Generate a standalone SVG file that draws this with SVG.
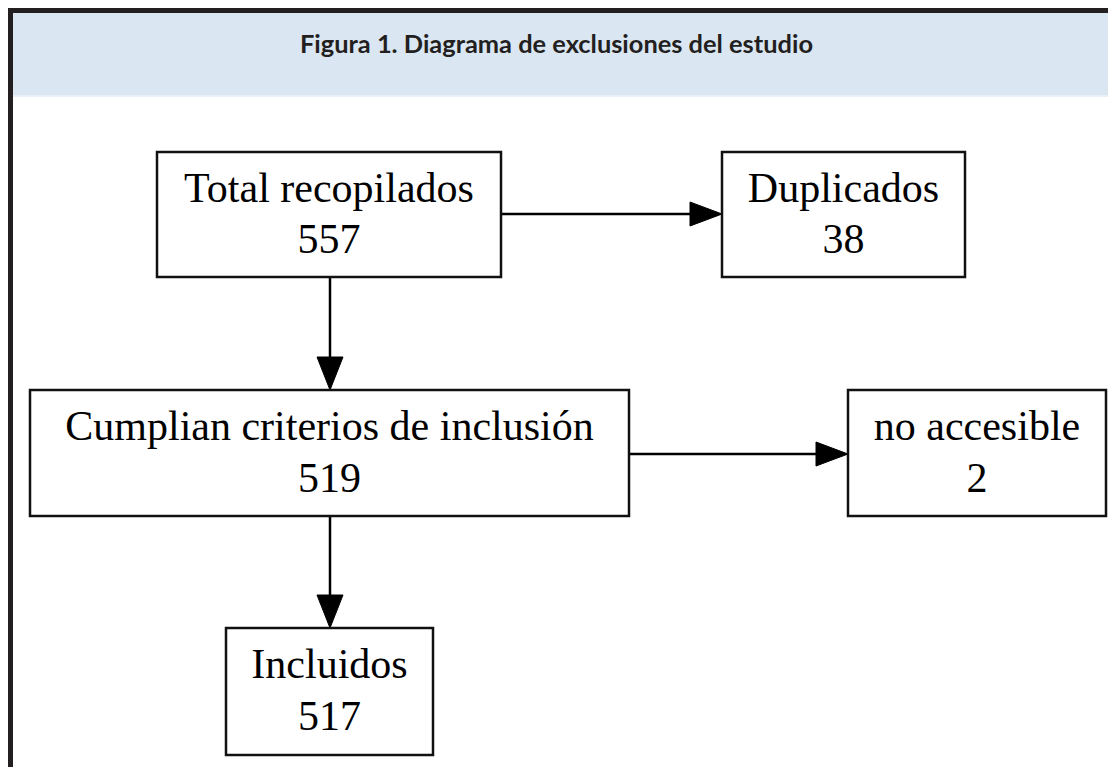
<svg xmlns="http://www.w3.org/2000/svg" width="1108" height="767" viewBox="0 0 1108 767">
  <style>
    .box { fill: #ffffff; stroke: #111111; stroke-width: 2.5; }
    .lbl { font-family: "Liberation Serif", "Times New Roman", serif; font-size: 42px; fill: #000000; text-anchor: middle; }
    .edge { stroke: #000000; stroke-width: 2.5; fill: none; }
    .head { fill: #000000; stroke: #000000; stroke-width: 1; }
    .title { font-family: Lato, "Liberation Sans", sans-serif; font-weight: bold; font-size: 25.4px; fill: #231f20; text-anchor: middle; }
  </style>
  <rect x="0" y="0" width="1108" height="767" fill="#ffffff"/>
  <g id="frame">
    <rect x="13" y="13" width="1095" height="82" fill="#dae6f2"/>
    <rect x="13" y="95" width="1095" height="2" fill="#eaf0f8"/>
    <rect x="8" y="8" width="1100" height="5" fill="#231f20"/>
    <rect x="8" y="8" width="5" height="759" fill="#231f20"/>
    <text class="title" x="556.5" y="53">Figura 1. Diagrama de exclusiones del estudio</text>
  </g>
  <g id="connectors">
    <line class="edge" x1="502" y1="214" x2="692" y2="214"/>
    <polygon class="head" points="690,202 722,214 690,226"/>
    <line class="edge" x1="330" y1="278" x2="330" y2="359"/>
    <polygon class="head" points="317,357 330,390 343,357"/>
    <line class="edge" x1="629" y1="454" x2="818" y2="454"/>
    <polygon class="head" points="816,442 848,454 816,466"/>
    <line class="edge" x1="330" y1="516" x2="330" y2="597"/>
    <polygon class="head" points="317,595 330,628 343,595"/>
  </g>
  <g id="node-total">
    <rect class="box" x="157" y="152" width="344" height="125"/>
    <text class="lbl" x="329" y="202">Total recopilados</text>
    <text class="lbl" x="329" y="253">557</text>
  </g>
  <g id="node-duplicados">
    <rect class="box" x="722" y="152" width="243" height="125"/>
    <text class="lbl" x="843.5" y="202">Duplicados</text>
    <text class="lbl" x="843.5" y="253">38</text>
  </g>
  <g id="node-cumplian">
    <rect class="box" x="30" y="390" width="599" height="126"/>
    <text class="lbl" x="329.5" y="440">Cumplian criterios de inclusión</text>
    <text class="lbl" x="329.5" y="492">519</text>
  </g>
  <g id="node-noaccesible">
    <rect class="box" x="848" y="390" width="258" height="126"/>
    <text class="lbl" x="977" y="440">no accesible</text>
    <text class="lbl" x="977" y="492">2</text>
  </g>
  <g id="node-incluidos">
    <rect class="box" x="226" y="628" width="207" height="127"/>
    <text class="lbl" x="329.5" y="678">Incluidos</text>
    <text class="lbl" x="329.5" y="730">517</text>
  </g>
</svg>
